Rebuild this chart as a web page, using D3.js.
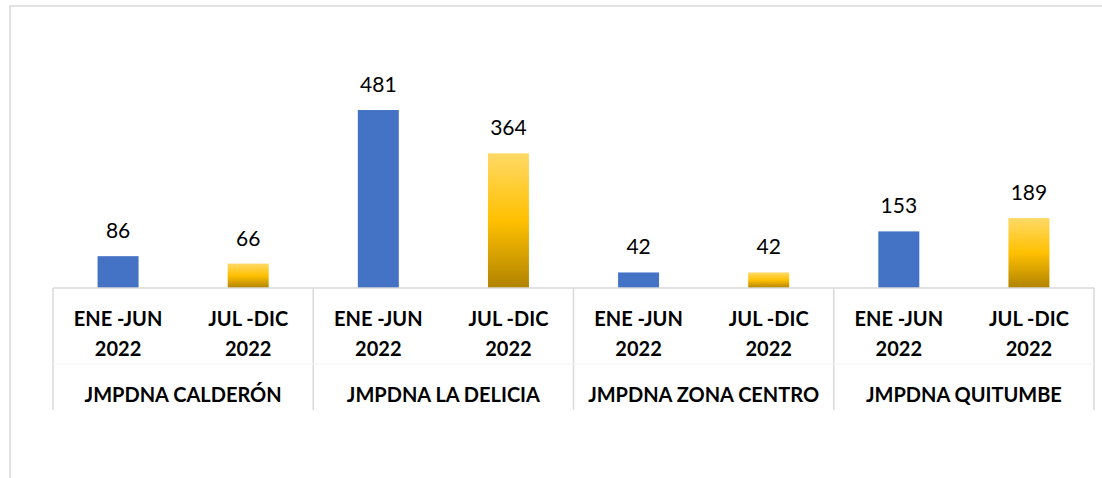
<!DOCTYPE html>
<html lang="es">
<head>
<meta charset="UTF-8">
<title>JMPDNA 2022</title>
<script src="https://d3js.org/d3.v7.min.js"></script>
<style>
  body { margin: 0; background: #fff; }
  svg { display: block; font-family: Lato, "Open Sans", sans-serif; }
</style>
</head>
<body>
<svg id="chart"></svg>
<script>
// data
const groups  = ["JMPDNA CALDERÓN", "JMPDNA LA DELICIA", "JMPDNA ZONA CENTRO", "JMPDNA QUITUMBE"];
const periods = [["ENE -JUN", "2022"], ["JUL -DIC", "2022"]];
const eneJun  = [86, 481, 42, 153];
const julDic  = [66, 364, 42, 189];

const width = 1102, height = 478;
const svg = d3.select("#chart").attr("width", width).attr("height", height);

// chart frame (runs off the right and bottom of the picture)
svg.append("rect")
  .attr("x", 10).attr("y", 6)
  .attr("width", 1200).attr("height", 600)
  .attr("fill", "none").attr("stroke", "#d9d9d9").attr("stroke-width", 1.5);

const defs = svg.append("defs");
const grad = defs.append("linearGradient")
  .attr("id", "gold").attr("x1", 0).attr("y1", 0).attr("x2", 0).attr("y2", 1);
grad.append("stop").attr("offset", "0%").attr("stop-color", "#ffd966");
grad.append("stop").attr("offset", "50%").attr("stop-color", "#ffc000");
grad.append("stop").attr("offset", "100%").attr("stop-color", "#b08300");

const baseY = 288, axisBottom = 410;
const x0 = d3.scaleBand().domain(groups).range([53, 1094]);
const x1 = d3.scaleBand().domain([0, 1]).range([0, x0.bandwidth()]);
const y  = d3.scaleLinear().domain([0, 600]).range([baseY, 66]);
const barW = x1.bandwidth() * 0.315;

const series = [
  { values: eneJun, fill: "#4472c4" },
  { values: julDic, fill: "url(#gold)" }
];

const rows = groups.flatMap((g, i) =>
  series.map((s, j) => ({ group: g, idx: j, value: s.values[i], fill: s.fill })));

const cx = d => x0(d.group) + x1(d.idx) + x1.bandwidth() / 2;

// bars
svg.append("g").selectAll("rect")
  .data(rows)
  .join("rect")
  .attr("x", d => cx(d) - barW / 2)
  .attr("y", d => y(d.value))
  .attr("width", barW)
  .attr("height", d => baseY - y(d.value))
  .attr("fill", d => d.fill);

// value labels
svg.append("g").selectAll("text")
  .data(rows)
  .join("text")
  .attr("x", cx)
  .attr("y", d => y(d.value) - 18)
  .attr("text-anchor", "middle")
  .attr("font-size", 21)
  .attr("fill", "#000")
  .text(d => d.value);

// category axis: baseline, separators, faint row line
const axis = svg.append("g").attr("stroke", "#d9d9d9").attr("stroke-width", 1.5);
axis.append("line")
  .attr("x1", x0.range()[0]).attr("x2", x0.range()[1])
  .attr("y1", baseY).attr("y2", baseY);
axis.selectAll("line.sep")
  .data(groups.map(g => x0(g)).concat([x0.range()[1]]))
  .join("line").attr("class", "sep")
  .attr("x1", d => d).attr("x2", d => d)
  .attr("y1", baseY).attr("y2", axisBottom);
svg.append("line")
  .attr("x1", x0.range()[0]).attr("x2", x0.range()[1])
  .attr("y1", 364).attr("y2", 364)
  .attr("stroke", "#f2f2f2").attr("stroke-width", 1);

// period labels (two lines)
const lab = svg.append("g").attr("font-weight", "bold").attr("font-size", 20)
  .attr("text-anchor", "middle").attr("fill", "#000");
rows.forEach(d => {
  periods[d.idx].forEach((line, k) => {
    lab.append("text")
      .attr("x", cx(d))
      .attr("y", 326 + k * 30)
      .text(line);
  });
});

// group labels
lab.selectAll("text.grp")
  .data(groups)
  .join("text").attr("class", "grp")
  .attr("x", g => x0(g) + x0.bandwidth() / 2)
  .attr("y", 402)
  .text(g => g);
</script>
</body>
</html>
